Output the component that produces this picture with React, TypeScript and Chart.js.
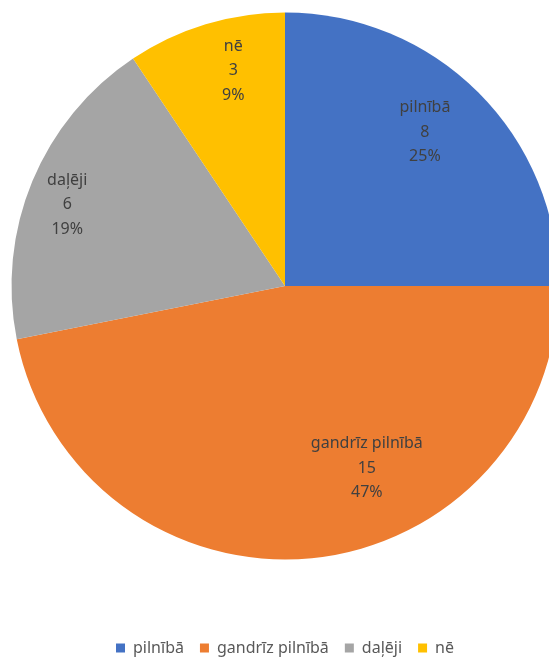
import React, { useEffect, useRef } from "react";
import { Chart, registerables } from "chart.js";

Chart.register(...registerables);

const categories = ["pilnībā", "gandrīz pilnībā", "daļēji", "nē"];
const counts = [8, 15, 6, 3];
const sliceColors = ["#4472C4", "#ED7D31", "#A5A5A5", "#FFC000"];
// where each data label sits inside its slice (fraction of the slice's angle, fraction of radius)
const labelAngleFrac = [0.47, 0.39, 0.47, 0.6];
const labelRadiusFrac = [0.76, 0.73, 0.85, 0.81];

const FONT = "'Noto Sans', 'DejaVu Sans', sans-serif";

const sliceLabels = {
  id: "sliceLabels",
  afterDatasetsDraw(chart: any) {
    const ctx = chart.ctx;
    const meta = chart.getDatasetMeta(0);
    const data = chart.data.datasets[0].data as number[];
    const total = data.reduce((a, b) => a + b, 0);
    ctx.save();
    ctx.font = `16px ${FONT}`;
    ctx.fillStyle = "#404040";
    ctx.textAlign = "center";
    ctx.textBaseline = "middle";
    meta.data.forEach((arc: any, i: number) => {
      const p = arc.getProps(["x", "y", "startAngle", "endAngle", "outerRadius"], true);
      const a = p.startAngle + (p.endAngle - p.startAngle) * labelAngleFrac[i];
      const r = p.outerRadius * labelRadiusFrac[i];
      const cx = p.x + Math.cos(a) * r;
      const cy = p.y + Math.sin(a) * r;
      const lines = [
        String(chart.data.labels[i]),
        String(data[i]),
        Math.round((data[i] / total) * 100) + "%",
      ];
      const lh = 24.5;
      lines.forEach((t, k) => {
        ctx.fillText(t, cx, cy + (k - 1) * lh);
      });
    });
    ctx.restore();
  },
};

export default function App() {
  const ref = useRef<HTMLCanvasElement | null>(null);

  useEffect(() => {
    document.body.style.margin = "0";
    const canvas = ref.current;
    if (!canvas) return;
    const chart = new Chart(canvas, {
      type: "pie",
      data: {
        labels: categories,
        datasets: [
          {
            data: counts,
            backgroundColor: sliceColors,
            borderWidth: 0,
            radius: 273.5,
          } as any,
        ],
      },
      options: {
        responsive: false,
        animation: false,
        devicePixelRatio: 1,
        layout: { padding: 0 },
        plugins: {
          tooltip: { enabled: false },
          legend: {
            display: true,
            position: "bottom",
            labels: {
              boxWidth: 9,
              boxHeight: 9,
              padding: 16,
              color: "#595959",
              font: { family: FONT, size: 16 },
            },
          },
        },
      },
      plugins: [sliceLabels],
    });
    return () => chart.destroy();
  }, []);

  return (
    <div style={{ position: "relative", width: 549, height: 666, overflow: "hidden", background: "#fff" }}>
      <canvas
        ref={ref}
        width={570}
        height={718}
        style={{ position: "absolute", left: 0, top: -52, width: 570, height: 718 }}
      />
    </div>
  );
}
